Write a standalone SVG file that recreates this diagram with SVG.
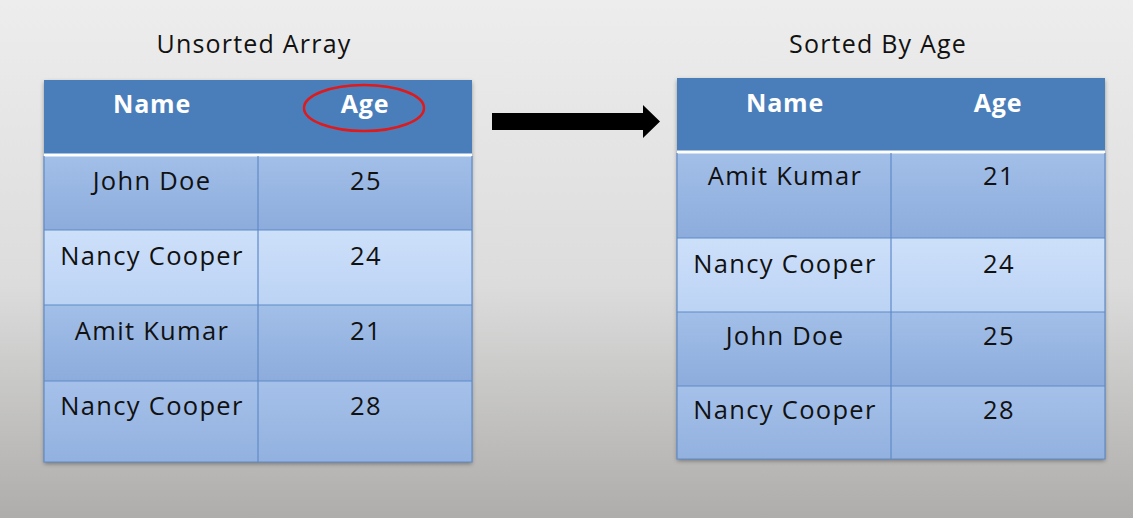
<svg xmlns="http://www.w3.org/2000/svg" width="1133" height="518" viewBox="0 0 1133 518">
<defs>
<linearGradient id="bg" x1="0" y1="0" x2="0" y2="1">
<stop offset="0" stop-color="#ededed"/>
<stop offset="0.55" stop-color="#dcdcdc"/>
<stop offset="1" stop-color="#aeadab"/>
</linearGradient>
<linearGradient id="dark" x1="0" y1="0" x2="0" y2="1">
<stop offset="0" stop-color="#a2bfe8"/>
<stop offset="1" stop-color="#8dacdc"/>
</linearGradient>
<linearGradient id="dark2" x1="0" y1="0" x2="0" y2="1">
<stop offset="0" stop-color="#a5c1ea"/>
<stop offset="1" stop-color="#93b1df"/>
</linearGradient>
<linearGradient id="light" x1="0" y1="0" x2="0" y2="1">
<stop offset="0" stop-color="#cde0fa"/>
<stop offset="1" stop-color="#bcd3f4"/>
</linearGradient>
<filter id="sh" x="-5%" y="-5%" width="110%" height="115%">
<feDropShadow dx="0" dy="2" stdDeviation="2" flood-color="#000" flood-opacity="0.35"/>
</filter>
</defs>
<style>
.title{font-family:"Open Sans","Liberation Sans",sans-serif;font-size:25px;letter-spacing:1.2px;fill:#111;text-anchor:middle}
.hd{font-family:"Open Sans","Liberation Sans",sans-serif;font-size:25px;letter-spacing:0.8px;font-weight:bold;fill:#fff;text-anchor:middle}
.cell{font-family:"Open Sans","Liberation Sans",sans-serif;font-size:25.5px;letter-spacing:1.3px;fill:#111;text-anchor:middle}
.head{fill:#4a7ebb}
.dk{fill:url(#dark)}
.dk2{fill:url(#dark2)}
.lt{fill:url(#light)}
.grid{stroke:#5f8bc8;stroke-width:1.2;fill:none}
.sep{stroke:#ffffff;stroke-width:3}
</style>
<rect width="1133" height="518" fill="url(#bg)"/>

<g id="left-table">
<text class="title" x="254" y="53">Unsorted Array</text>
<rect x="44" y="80" width="428" height="382" fill="#4a7ebb" filter="url(#sh)"/>
<rect class="head" x="44" y="80" width="428" height="74"/>
<rect class="dk" x="44" y="156" width="428" height="74"/>
<rect class="lt" x="44" y="230" width="428" height="75"/>
<rect class="dk" x="44" y="305" width="428" height="76"/>
<rect class="dk2" x="44" y="381" width="428" height="81"/>
<line class="sep" x1="44" y1="155" x2="472" y2="155"/>
<path class="grid" d="M258 156V462M44 230H472M44 305H472M44 381H472M44 156V462H472V156"/>
<text class="hd" x="152" y="113">Name</text>
<text class="hd" x="365" y="113">Age</text>
<ellipse cx="364" cy="108" rx="60" ry="23" fill="none" stroke="#e0191b" stroke-width="2.5"/>
<text class="cell" x="152" y="190">John Doe</text>
<text class="cell" x="366" y="190">25</text>
<text class="cell" x="152" y="265">Nancy Cooper</text>
<text class="cell" x="366" y="265">24</text>
<text class="cell" x="152" y="340">Amit Kumar</text>
<text class="cell" x="366" y="340">21</text>
<text class="cell" x="152" y="415">Nancy Cooper</text>
<text class="cell" x="366" y="415">28</text>
</g>

<g id="connectors">
<path d="M492 113H643V105L660 121.5L643 138V130H492Z" fill="#000"/>
</g>

<g id="right-table">
<text class="title" x="878" y="53">Sorted By Age</text>
<rect x="677" y="78" width="428" height="381" fill="#4a7ebb" filter="url(#sh)"/>
<rect class="head" x="677" y="78" width="428" height="73"/>
<rect class="dk" x="677" y="153" width="428" height="85"/>
<rect class="lt" x="677" y="238" width="428" height="74"/>
<rect class="dk" x="677" y="312" width="428" height="74"/>
<rect class="dk2" x="677" y="386" width="428" height="73"/>
<line class="sep" x1="677" y1="152" x2="1105" y2="152"/>
<path class="grid" d="M891 153V459M677 238H1105M677 312H1105M677 386H1105M677 153V459H1105V153"/>
<text class="hd" x="785" y="112">Name</text>
<text class="hd" x="998" y="112">Age</text>
<text class="cell" x="785" y="185">Amit Kumar</text>
<text class="cell" x="999" y="185">21</text>
<text class="cell" x="785" y="273">Nancy Cooper</text>
<text class="cell" x="999" y="273">24</text>
<text class="cell" x="785" y="345">John Doe</text>
<text class="cell" x="999" y="345">25</text>
<text class="cell" x="785" y="419">Nancy Cooper</text>
<text class="cell" x="999" y="419">28</text>
</g>
</svg>
